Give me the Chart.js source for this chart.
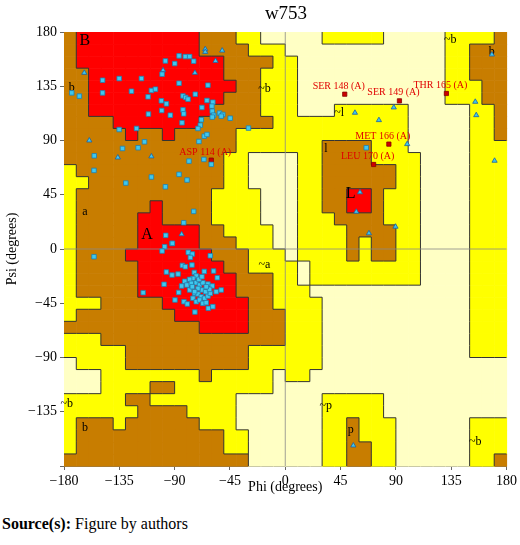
<!DOCTYPE html>
<html><head><meta charset="utf-8">
<script src="https://cdn.jsdelivr.net/npm/chart.js@4"></script>
<style>
body{margin:0;background:#fff;width:520px;height:545px;position:relative;font-family:"Liberation Serif",serif}
#wrap{position:absolute;left:0;top:0;width:520px;height:500px}
#title{position:absolute;top:2px;left:64px;width:444px;text-align:center;font-size:19px}
#src{position:absolute;top:515px;left:2px;font-size:16px}
</style></head><body>
<div id="wrap"><canvas id="c"></canvas></div>
<div id="title">w753</div>
<div id="src"><b>Source(s):</b> Figure by authors</div>
<script>
// region grid: rows psi 180->-180 (10 deg), cols phi -180->180 (10 deg). R core, B allowed, Y additional, P generous
const regionRowsLeft = [
"BRRRRRRRRRRBBBYYPP","BRRRRRRRRRRBBBBYYY","BRRRRRRRRRRRRBBBBY","BBRRRRRRRRRRRBBBYY",
"BBRRRRRRRRRRRRBBYY","BBRRRRRRRRRRRBBBYY","BBRRRRRRRRRRBBBBYY","BBBBRRRRRRRBBBBBBY",
"BBBBBRBBRBBBBBYYYY","BBBBBBBBBBBBBBYYYY","BBBBBBBBBBBBBYYPPP","YBBBBBBBBBBBBYYPPP",
"YYBBBBBBBBBBBYYPPP","YBBBBBBBBBBBYYYYPP","YBBBBBBRBBBBYYYYPP","YBBBBBRRBBBBYYYYPP",
"YBBBBBRRRRRBBYYYYP","YBBBBBRRRRRBBBYYYP","YBBBBRRRRRRRBBBYYY","YBBBBBRRRRRRRBBYYY",
"YBBBBBRRRRRRRRBBBY","YBBBBBRRRRRRRRBBBY","YYYBBBBBRRRRRRRBBY","YBBBBBBBBRRRRRRBBB",
"BBBBBBBBBBBRRRRBBB","YYYBBBBBBBBBBBBBBB","YYYYYBBBBBBBBBBYYY","PYYYYBBBBBBBBBBYYY",
"PPPYYYYYYYYBYYYYYP","PPPYYYYBBYYYYYYYYP","YYYYYBBYYYYYYYPPPP","YYYYYYBBBBYYYYPPPP",
"YBBBYBBBBBBYYYPPPP","YBBBBBBBBBBBBYYPPP","YBBBBBBBBBBBBYYPPP","BBBBBBBBBBBBBBBPPP"];
const regionRowsRight = [
"PPPYYYYYPPPPPYYYYB","PPPPPPPPPPPPPYYBBB","YPPPPPPPPPPPPYYBBB","YPPPPPPPPPPPPYYBBB",
"YPPPPPPPPPPPPYYYBB","YPPPPPPPPPPPPYYYBB","YPPPYYYYYYPPPPPYYB","YYYYYYYYYYPPPPPYYB",
"YYYYYYYYYYPPPPPYYB","YYYBBBBYYYPPPPPYYY","PYYBBBBYYYYPPPPYYY","PYYBBBBBBYYPPPPYYY",
"PYYBBBBBBYYPPPPYYY","PYYBBRRBYYYPPPPYYY","PYYBBRRBYYYPPPPYYY","PYYYBBBBYYYPPPPYYY",
"PYYYYBBBBYYPPPPYYY","PYYYYBYBBYYPPPPYYY","PYYYYBYBBYYPPPPYYY","YPYYYYYYYYYPPPPYYY",
"YPYYYYYYYYYPPPPYYY","YYPPPPPPPPPPPPPYYY","YYYPPPPPPPPPPPPYYY","YYYPPPPPPPPPPPPYYY",
"YYYPPPPPPPPPPPPYYY","YYYPPPPPPPPPPPPYYY","YYYPPPPPPPPPPPPYYY","YYYPPPPPPPPPPPPPPP",
"YYPPPPPPPPPPPPPPPP","PPPPPPPPPPPPPPPPPP","PPPYYYYYPPPPPPPPPP","PPPYYYYYPPPPPPPPPP",
"PPPYYBYYYPPPPPPYYY","PPPYYBYYYPPPPPPYYY","PPPYYBBYYPPPPPPYYY","PPPYYBBYYPPPPPPYYB"];
const regionColors = {R:"#FF0000",B:"#C87D00",Y:"#FFFF00",P:"#FFFFC4"};

const residuePhi = [-97.5,-86.4,-81.3,-77.8,-74.5,-89.9,-100.2,-148.6,-135.1,-117.0,-86.4,-62.9,-148.6,-125.1,-108.9,-105.6,-111.6,-100.8,-96.7,-83.2,-81.0,-79.1,-73.2,-63.7,-58.9,-59.7,-67.8,-83.2,-82.6,-100.5,-93.5,-111.3,-59.4,-58.3,-53.5,-50.8,-52.1,-44.8,-59.4,-68.3,-69.1,-71.0,-84.0,-135.1,-121.0,-29.9,-65.9,-63.7,-70.2,-114.5,-119.7,-132.4,-155.4,-155.6,-66.2,-78.3,-60.2,-129.7,-108.9,-86.4,-79.9,-97.5,-74.5,-82.6,-173.7,-167.5,
-98.1,-92.1,-100.2,-78.9,-75.6,-77.2,-61.0,-155.6,-83.7,-81.3,-75.9,-96.7,-92.1,-87.2,-74.0,-65.9,-58.3,-55.3,-72.4,-75.1,-77.8,-81.8,-84.3,-86.7,-80.0,-76.4,-72.4,-69.7,-67.0,-62.9,-59.4,-56.2,-52.1,-98.6,-115.6,-89.7,-82.4,-79.7,-73.7,-71.0,-68.3,-65.6,-62.9,-61.0,-75.1,-72.4,-69.7,-67.0,-64.3,-62.6,-58.9,-73.5,-77.8,-75.6,-67.5,-64.8,-61.6,-71.0,-73.7,-64.3,-70.2,-67.8,-97.2,-91.8,65.9];
const residuePsi = [156,160.2,159.6,159.6,155.8,153.8,145.0,140.0,141.4,141.4,137.5,135.9,129.5,130.9,131.5,132.6,126.2,122.9,120.4,127.0,125.7,124.3,128.4,123.2,121.8,118.5,117.4,115.4,112.1,114.9,111.0,111.9,114.3,111.0,112.7,111.6,110.2,108.5,109.4,107.2,102.7,100.0,104.7,99.1,100.0,100.3,93.6,95.0,89.2,88.9,84.0,83.4,77.3,65.2,74.3,72.9,70.2,54.7,59.7,61.9,57.2,51.6,31.2,21.8,129.5,126.8,
1.9,4.6,-1.7,-2.8,-4.2,-7.0,-5.6,-6.4,-13.6,-14.7,-13.3,-19.1,-21.6,-20.8,-19.4,-18.6,-18.3,-23.8,-22.4,-24.4,-25.2,-26.8,-30.7,-36.0,-29.9,-28.5,-28.0,-29.9,-28.0,-29.1,-30.7,-35.4,-34.0,-29.3,-36.2,-42.3,-43.7,-45.6,-36.8,-37.3,-39.6,-40.9,-39.0,-36.8,-40.9,-43.7,-42.3,-45.1,-44.5,-49.2,-47.8,-52.3,-34.0,-31.3,-34.0,-35.4,-33.5,-32.7,-35.4,-31.3,-25.2,-23.0,11.3,4.7,84.0];
const glycinePhi = [-65.1,-51.3,-56.7,-99.4,-73.5,-163.5,-159.4,-136.2,-108.9,-65.1,-84.3,56.7,76.2,88.3,99.2,60.8,57.8,89.7,68.1,168.1,154.6,155.4,170.3,55.4];
const glycinePsi = [165.7,164.6,156.0,148.3,146.1,146.1,90.0,75.9,76.8,163.5,12.2,113.0,106.9,117.4,87.0,47.0,30.9,18.5,13.0,161.3,122.1,111.0,73.2,-163.0];
const outlierNames = ["ASP 114 (A)","SER 148 (A)","SER 149 (A)","THR 165 (A)","MET 166 (A)","LEU 170 (A)"];
const outlierPhi = [-60.2,48.4,92.9,131.1,84.3,71.9];
const outlierPsi = [73.7,128.4,122.9,129.0,87.0,70.1];
const regionLabels = ["B","b","a","A","~b","~b","b","~l","l","L","~a","~b","b","~p","p","~b"];
const regionLabelPhi = [-163,-173.7,-162.9,-112.4,-16.9,134.3,168,43.8,33,53.2,-17,-177.8,-162.9,32.9,53.2,154.6];
const regionLabelPsi = [173,133.7,30.9,11.6,133.1,173.2,163.5,113.2,82.9,45.6,-13.3,-128.5,-148.7,-129.9,-150,-159.7];
const phiTicks = [-180,-135,-90,-45,0,45,90,135,180];

const grid = regionRowsLeft.map((r,i)=>r+regionRowsRight[i]);

const regionPlugin = {
  id:'regions',
  beforeDatasetsDraw(chart){
    const {ctx, scales:{x,y}} = chart;
    ctx.save();
    const cell=(r,c)=>grid[r][c];
    for(let r=0;r<36;r++)for(let c=0;c<36;c++){
      const x0=x.getPixelForValue(-180+10*c), x1=x.getPixelForValue(-170+10*c);
      const y0=y.getPixelForValue(180-10*r), y1=y.getPixelForValue(170-10*r);
      ctx.fillStyle=regionColors[cell(r,c)];
      ctx.fillRect(x0,y0,x1-x0+0.6,y1-y0+0.6);
    }
    ctx.strokeStyle='#333'; ctx.lineWidth=1;
    ctx.beginPath();
    for(let r=0;r<36;r++)for(let c=0;c<36;c++){
      const x1=x.getPixelForValue(-170+10*c), x0=x.getPixelForValue(-180+10*c);
      const y0=y.getPixelForValue(180-10*r), y1=y.getPixelForValue(170-10*r);
      if(c<35 && cell(r,c)!==cell(r,c+1)){ctx.moveTo(x1,y0);ctx.lineTo(x1,y1);}
      if(r<35 && cell(r,c)!==cell(r+1,c)){ctx.moveTo(x0,y1);ctx.lineTo(x1,y1);}
    }
    ctx.stroke();
    // zero lines
    ctx.strokeStyle='#888';ctx.lineWidth=0.8;ctx.beginPath();
    const zx=x.getPixelForValue(0), zy=y.getPixelForValue(0);
    ctx.moveTo(zx,y.top);ctx.lineTo(zx,y.bottom);ctx.moveTo(x.left,zy);ctx.lineTo(x.right,zy);ctx.stroke();
    // region labels
    ctx.fillStyle='#000';ctx.textAlign='center';ctx.textBaseline='middle';
    regionLabels.forEach((t,i)=>{
      ctx.font=(/^[A-Z]$/.test(t)?'16px':'12px')+' "Liberation Serif"';
      ctx.fillText(t,x.getPixelForValue(regionLabelPhi[i]),y.getPixelForValue(regionLabelPsi[i]));
    });
    ctx.restore();
  },
  afterDatasetsDraw(chart){
    const {ctx, scales:{x,y}} = chart;
    ctx.save();ctx.fillStyle='#E00000';ctx.font='10px "Liberation Serif"';ctx.textAlign='center';ctx.textBaseline='bottom';
    outlierNames.forEach((t,i)=>{
      ctx.fillText(t,x.getPixelForValue(outlierPhi[i])-6,y.getPixelForValue(outlierPsi[i])-3);
    });
    ctx.restore();
  }
};

const pts=(a,b)=>a.map((v,i)=>({x:v,y:b[i]}));
new Chart(document.getElementById('c'),{
  type:'scatter',
  data:{datasets:[
    {data:pts(residuePhi,residuePsi),pointStyle:'rect',pointRadius:3.2,backgroundColor:'#3FC8EE',borderColor:'#1F7FAF',borderWidth:0.8},
    {data:pts(glycinePhi,glycinePsi),pointStyle:'triangle',pointRadius:3,backgroundColor:'#3FC8EE',borderColor:'#1F5F9F',borderWidth:0.8},
    {data:pts(outlierPhi,outlierPsi),pointStyle:'rect',pointRadius:3,backgroundColor:'#CC0000',borderColor:'#880000',borderWidth:0.8}
  ]},
  options:{
    responsive:true,maintainAspectRatio:false,animation:false,
    layout:{padding:{top:32,right:12,left:0,bottom:0}},
    plugins:{legend:{display:false},tooltip:{enabled:false}},
    scales:{
      x:{type:'linear',min:-180,max:180,afterBuildTicks:s=>{s.ticks=phiTicks.map(v=>({value:v}));},
        afterFit:s=>{s.height=34;},
        grid:{display:true,drawOnChartArea:false,tickLength:4,color:'#666'},border:{color:'#777'},
        ticks:{color:'#000',font:{family:'Liberation Serif',size:14},maxRotation:0,callback:v=>v<0?'\u2212'+(-v):''+v},
        title:{display:true,text:'Phi (degrees)',color:'#000',font:{family:'Liberation Serif',size:14},padding:{top:0}}},
      y:{type:'linear',min:-180,max:180,afterBuildTicks:s=>{s.ticks=phiTicks.map(v=>({value:v}));},
        afterFit:s=>{s.width=64;},
        grid:{display:true,drawOnChartArea:false,tickLength:4,color:'#666'},border:{color:'#777'},
        ticks:{color:'#000',font:{family:'Liberation Serif',size:14},callback:v=>v===-180?'':(v<0?'\u2212'+(-v):''+v)},
        title:{display:true,text:'Psi (degrees)',color:'#000',font:{family:'Liberation Serif',size:14},padding:{bottom:2}}}
    }
  },
  plugins:[regionPlugin]
});
</script></body></html>
